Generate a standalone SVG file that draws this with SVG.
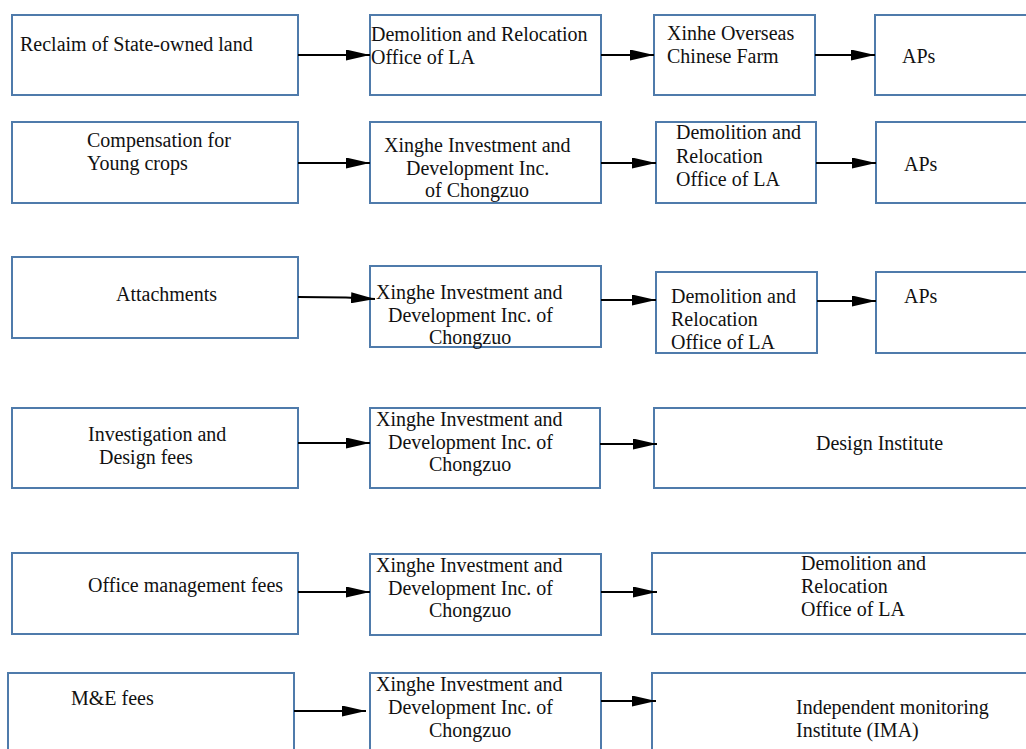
<svg xmlns="http://www.w3.org/2000/svg" width="1026" height="749" viewBox="0 0 1026 749">
<style>
.box{fill:#fff;stroke:#4f7bab;stroke-width:2}
text{font-family:"Liberation Serif","Times New Roman",serif;font-size:20px;fill:#111}
.c{stroke:#000;stroke-width:2;fill:none;marker-end:url(#ah)}
</style>
<defs>
<marker id="ah" viewBox="0 0 24 11" refX="24" refY="5.5" markerWidth="24" markerHeight="11" markerUnits="userSpaceOnUse" orient="auto">
<path d="M0,0 L24,5.5 L0,11 Z" fill="#000"/>
</marker>
</defs>
<rect width="1026" height="749" fill="#fff"/>

<!-- Row 1 -->
<g id="a1"><rect class="box" x="12" y="15" width="286" height="80"/><text x="20" y="51">Reclaim of State-owned land</text></g>
<g id="b1"><rect class="box" x="370" y="15" width="231" height="80"/><text x="371" y="41">Demolition and Relocation</text><text x="371" y="64">Office of LA</text></g>
<g id="c1"><rect class="box" x="654" y="15" width="161" height="80"/><text x="667" y="40">Xinhe Overseas</text><text x="667" y="63">Chinese Farm</text></g>
<g id="d1"><rect class="box" x="875" y="15" width="160" height="80"/><text x="902" y="63">APs</text></g>

<!-- Row 2 -->
<g id="a2"><rect class="box" x="12" y="122" width="286" height="81"/><text x="87" y="147">Compensation for</text><text x="87" y="170">Young crops</text></g>
<g id="b2"><rect class="box" x="370" y="122" width="231" height="81"/><text x="384" y="152">Xinghe Investment and</text><text x="406" y="175">Development Inc.</text><text x="425" y="197">of Chongzuo</text></g>
<g id="c2"><rect class="box" x="656" y="122" width="160" height="81"/><text x="676" y="139">Demolition and</text><text x="676" y="163">Relocation</text><text x="676" y="186">Office of LA</text></g>
<g id="d2"><rect class="box" x="876" y="122" width="160" height="81"/><text x="904" y="171">APs</text></g>

<!-- Row 3 -->
<g id="a3"><rect class="box" x="12" y="257" width="286" height="81"/><text x="116" y="301">Attachments</text></g>
<g id="b3"><rect class="box" x="370" y="266" width="231" height="81"/><text x="376" y="299">Xinghe Investment and</text><text x="388" y="322">Development Inc. of</text><text x="429" y="344">Chongzuo</text></g>
<g id="c3"><rect class="box" x="656" y="272" width="161" height="81"/><text x="671" y="303">Demolition and</text><text x="671" y="326">Relocation</text><text x="671" y="349">Office of LA</text></g>
<g id="d3"><rect class="box" x="876" y="272" width="160" height="81"/><text x="904" y="303">APs</text></g>

<!-- Row 4 -->
<g id="a4"><rect class="box" x="12" y="408" width="286" height="80"/><text x="88" y="441">Investigation and</text><text x="99" y="464">Design fees</text></g>
<g id="b4"><rect class="box" x="370" y="408" width="230" height="80"/><text x="376" y="426">Xinghe Investment and</text><text x="388" y="449">Development Inc. of</text><text x="429" y="471">Chongzuo</text></g>
<g id="c4"><rect class="box" x="654" y="408" width="380" height="80"/><text x="816" y="450">Design Institute</text></g>

<!-- Row 5 -->
<g id="a5"><rect class="box" x="12" y="553" width="286" height="81"/><text x="88" y="592">Office management fees</text></g>
<g id="b5"><rect class="box" x="370" y="554" width="231" height="81"/><text x="376" y="572">Xinghe Investment and</text><text x="388" y="595">Development Inc. of</text><text x="429" y="617">Chongzuo</text></g>
<g id="c5"><rect class="box" x="652" y="553" width="382" height="81"/><text x="801" y="570">Demolition and</text><text x="801" y="593">Relocation</text><text x="801" y="616">Office of LA</text></g>

<!-- Row 6 -->
<g id="a6"><rect class="box" x="8" y="673" width="286" height="90"/><text x="71" y="705">M&amp;E fees</text></g>
<g id="b6"><rect class="box" x="370" y="673" width="231" height="90"/><text x="376" y="691">Xinghe Investment and</text><text x="388" y="714">Development Inc. of</text><text x="429" y="737">Chongzuo</text></g>
<g id="c6"><rect class="box" x="652" y="673" width="382" height="90"/><text x="796" y="714">Independent monitoring</text><text x="796" y="737">Institute (IMA)</text></g>

<g id="connectors">
<path class="c" d="M298,55 L370,55"/>
<path class="c" d="M601,55 L654,55"/>
<path class="c" d="M815,55 L875,55"/>
<path class="c" d="M298,163 L370,163"/>
<path class="c" d="M601,163 L656,163"/>
<path class="c" d="M816,163 L876,163"/>
<path class="c" d="M298,297 L346,297.5 L375,299"/>
<path class="c" d="M601,300 L656,300"/>
<path class="c" d="M817,301 L876,301"/>
<path class="c" d="M298,443 L370,443"/>
<path class="c" d="M600,444 L657,444"/>
<path class="c" d="M298,592 L370,592"/>
<path class="c" d="M601,592 L657,592"/>
<path class="c" d="M294,711 L366,711"/>
<path class="c" d="M601,701 L656,701"/>
</g>
</svg>
